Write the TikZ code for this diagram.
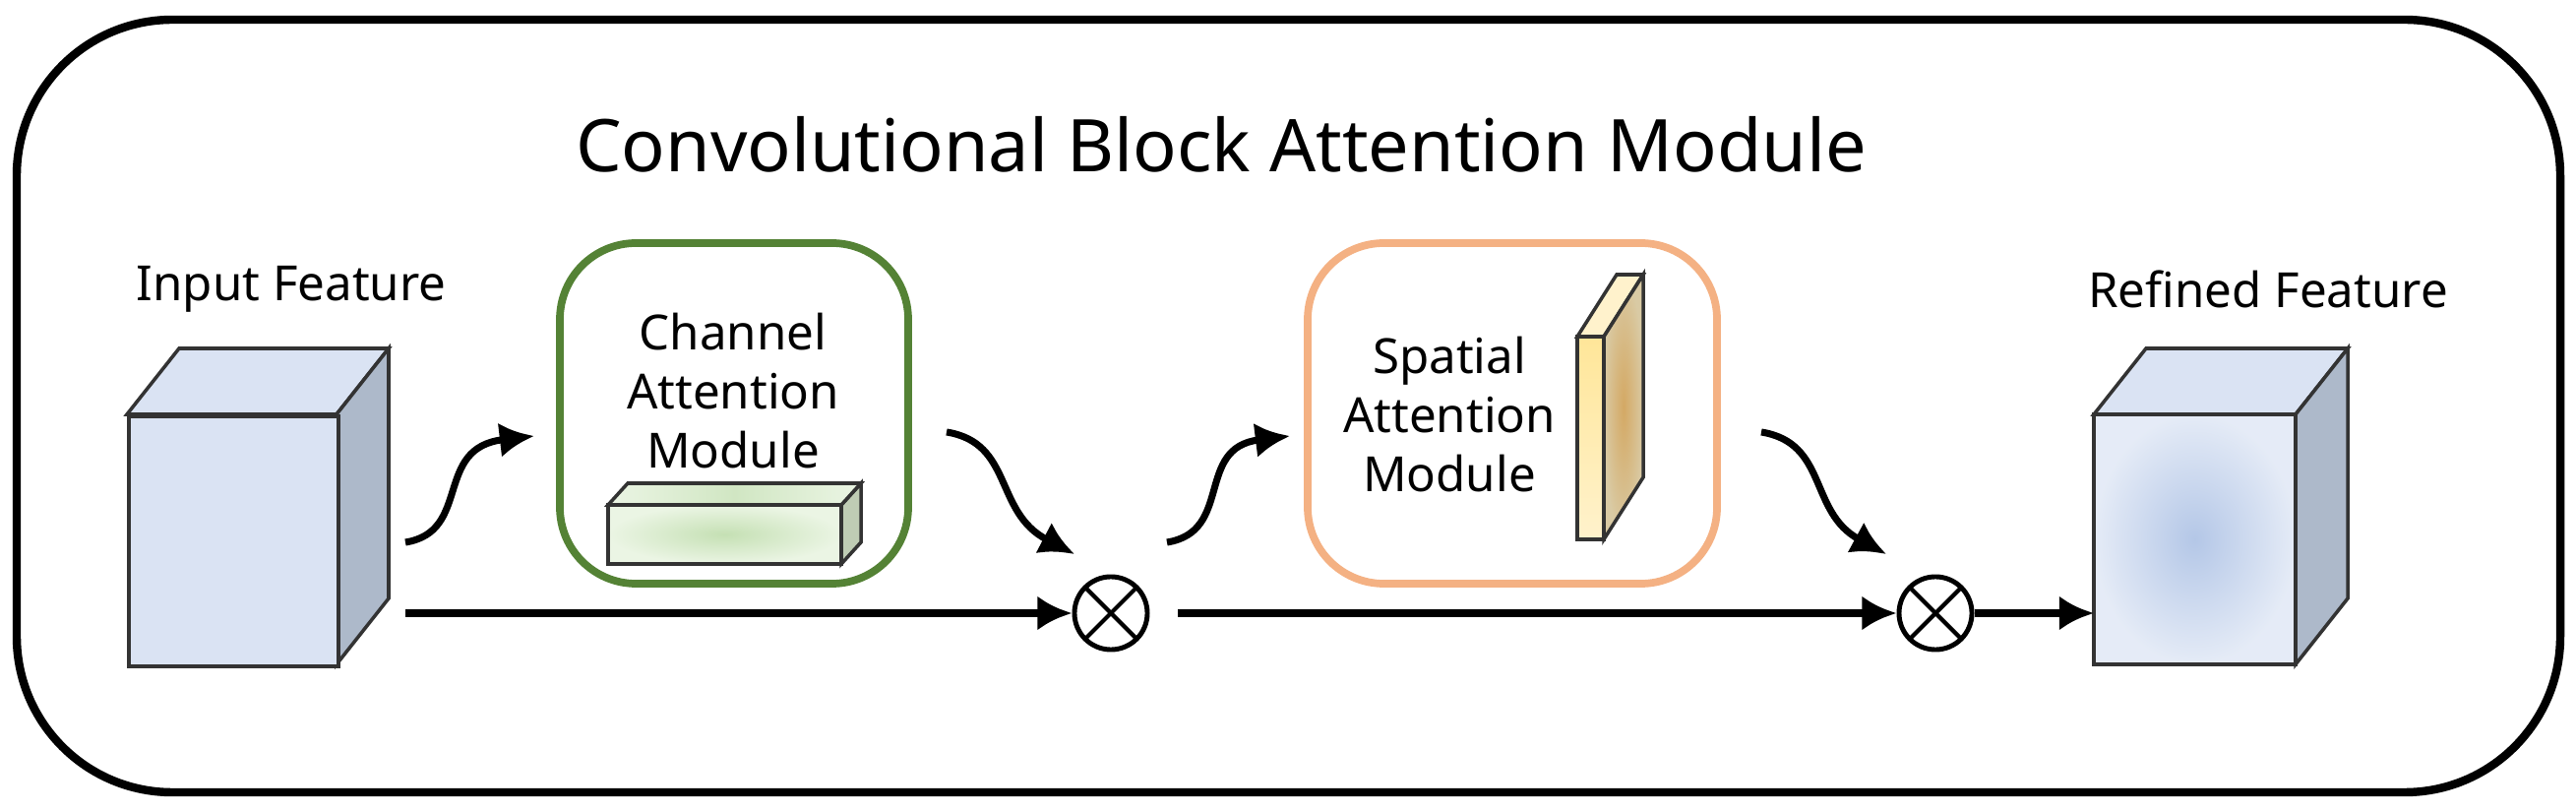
\documentclass[tikz,border=0pt]{standalone}
\usepackage{fontspec}
\setmainfont{Noto Sans}
\usetikzlibrary{arrows.meta}
\usetikzlibrary{positioning}

\definecolor{cubeFront}{HTML}{DAE3F3}
\definecolor{cubeSide}{HTML}{ADB9CA}
\definecolor{refinedCore}{HTML}{B4C7E7}
\definecolor{barCore}{HTML}{C5E0B4}
\definecolor{barLight}{HTML}{EBF5E4}
\definecolor{barSide}{HTML}{BFCCB4}
\definecolor{plateFront}{HTML}{FFE699}
\definecolor{plateLight}{HTML}{FFF2CC}
\definecolor{plateSide}{HTML}{C9B37D}
\definecolor{chanEdge}{HTML}{548235}
\definecolor{spatEdge}{HTML}{F4B183}

\tikzset{
  face/.style={draw=black!80, line width=1pt},
  flow/.style={line width=2pt, -{Latex[length=10pt,width=10pt]}},
  module/.style={rounded corners=22pt, line width=2.2pt, fill=white},
  label/.style={font=\fontsize{14}{17}\selectfont, align=center},
  mult/.style={circle, draw, line width=1.4pt, minimum size=0.74cm, inner sep=0pt,
    path picture={\draw[line width=1.2pt]
      (path picture bounding box.north west) -- (path picture bounding box.south east)
      (path picture bounding box.north east) -- (path picture bounding box.south west);}}
}

\begin{document}
\begin{tikzpicture}[x=0.01cm, y=-0.01cm]
    \useasboundingbox (0,0) rectangle (2618,825);

    % frame and title
    \draw[line width=2.4pt, rounded corners=45pt] (17,20) rectangle (2602,805);
    \node[font=\fontsize{21}{25}\selectfont] (title) at (1241,147) {Convolutional Block Attention Module};

    % input feature
    \draw[face, fill=cubeFront] (129,421) -- (182,354) -- (395,354) -- (342,421) -- cycle;
    \draw[face, fill=cubeSide] (342,421) -- (395,354) -- (395,608) -- (342,675) -- cycle;
    \node[face, fill=cubeFront, minimum width=2.13cm, minimum height=2.54cm,
      anchor=north west, inner sep=0pt] (input) at (129,421) {};
    \node[label] (inputlab) at (296,294) {Input Feature};

    % channel attention
    \draw[module, draw=chanEdge] (569,247) rectangle (923,593);
    \node[label] (chantext) at (745,397) {Channel\\Attention\\Module};
    \draw[face, fill=barSide] (855,513) -- (875,491) -- (875,551) -- (855,573) -- cycle;
    \draw[face, left color=barLight, right color=barLight, middle color=barCore!80]
      (618,513) -- (638,491) -- (875,491) -- (855,513) -- cycle;
    \draw[face, inner color=barCore, outer color=barLight] (618,513) rectangle (855,573);

    % spatial attention
    \draw[module, draw=spatEdge] (1329,247) rectangle (1745,593);
    \node[label] (spattext) at (1473,421) {Spatial\\Attention\\Module};
    \draw[face, fill=plateLight] (1603,342) -- (1643,279) -- (1670,279) -- (1630,342) -- cycle;
    \draw[face, inner color=plateSide!80!orange, outer color=plateSide!70] (1630,342) -- (1670,279) -- (1670,485) -- (1630,548) -- cycle;
    \draw[face, top color=plateFront, bottom color=plateLight] (1603,342) rectangle (1630,548);

    % refined feature
    \draw[face, fill=cubeFront] (2128,421) -- (2181,354) -- (2386,354) -- (2333,421) -- cycle;
    \draw[face, fill=cubeSide] (2333,421) -- (2386,354) -- (2386,608) -- (2333,675) -- cycle;
    \draw[face, inner color=refinedCore, outer color=cubeFront!70] (2128,421) rectangle (2333,675);
    \coordinate (refined) at (2128,623);
    \node[label] (refinedlab) at (2305,294) {Refined Feature};

    % multiplications
    \node[mult] (m1) at (1129,623) {};
    \node[mult] (m2) at (1967,623) {};

    % connectors
    \coordinate (s1) at (412,623);
    \coordinate (s2) at (1197,623);
    \coordinate (c1a) at (412,551);
    \coordinate (c1b) at (543,443);
    \coordinate (c2a) at (962,439);
    \coordinate (c2b) at (1092,563);
    \coordinate (c3a) at (1186,551);
    \coordinate (c3b) at (1311,443);
    \coordinate (c4a) at (1790,439);
    \coordinate (c4b) at (1917,563);
    \draw[flow] (s1) -- (m1);
    \draw[flow] (s2) -- (m2);
    \draw[flow] (m2) -- (refined);
    \draw[flow] (c1a) .. controls (480,540) and (440,455) .. (c1b);
    \draw[flow] (c2a) .. controls (1030,450) and (1010,520) .. (c2b);
    \draw[flow] (c3a) .. controls (1254,540) and (1214,455) .. (c3b);
    \draw[flow] (c4a) .. controls (1858,450) and (1838,520) .. (c4b);
\end{tikzpicture}
\end{document}
